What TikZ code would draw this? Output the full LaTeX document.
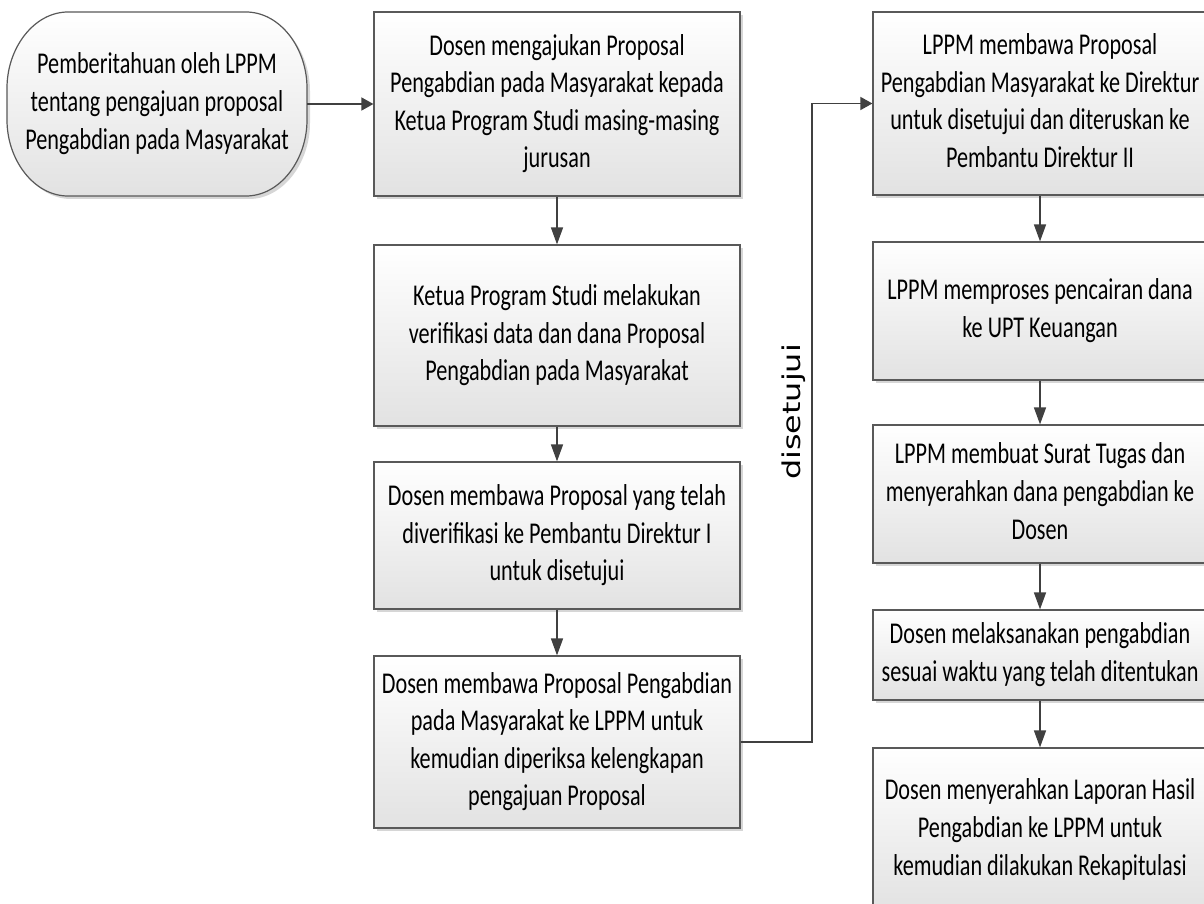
\documentclass[tikz,border=0pt]{standalone}
\usepackage{fontspec}
\setmainfont{Carlito}
\newfontfamily\dejavu{DejaVu Sans}
\usepackage{graphicx}
\usetikzlibrary{arrows.meta,shadows}
\definecolor{boxline}{HTML}{595959}
\definecolor{boxbot}{HTML}{E2E2E2}
\definecolor{arrowc}{HTML}{404040}
\newcommand\vs[1]{\scalebox{1}[1.36]{\begin{tabular}{@{}c@{}}#1\end{tabular}}}
\begin{document}
\begin{tikzpicture}[x=1pt,y=-1pt,
  box/.style={rectangle, draw=boxline, line width=1.2pt, top color=white, bottom color=boxbot,
    drop shadow={shadow xshift=3pt,shadow yshift=-3pt,fill=black!35,opacity=0.45},
    inner sep=0pt, font=\fontsize{22.2}{27.6}\selectfont, text=black},
  lbox/.style={box, minimum width=366pt},
  rbox/.style={box, minimum width=334pt},
  conn/.style={draw=arrowc, line width=1.5pt},
  varr/.style={conn, -{Triangle[width=12pt,length=17pt]}, arrowc},
  harr/.style={conn, -{Triangle[width=13pt,length=12pt]}, arrowc},
]
\useasboundingbox (0,0) rectangle (1204,904);
\fill[white] (0,0) rectangle (1204,904);
\clip (0,0) rectangle (1204,904);

% start terminator
\begin{scope}[shift={(3,3)}]
\fill[black!35, opacity=0.45] (68,12) -- (246,12) .. controls (280,12) and (307,48) .. (307,88) -- (307,120) .. controls (307,160) and (280,196) .. (246,196) -- (68,196) .. controls (34,196) and (7,160) .. (7,120) -- (7,88) .. controls (7,48) and (34,12) .. (68,12) -- cycle;
\end{scope}
\shade[top color=white, bottom color=boxbot, draw=boxline, line width=1.2pt] (68,12) -- (246,12) .. controls (280,12) and (307,48) .. (307,88) -- (307,120) .. controls (307,160) and (280,196) .. (246,196) -- (68,196) .. controls (34,196) and (7,160) .. (7,120) -- (7,88) .. controls (7,48) and (34,12) .. (68,12) -- cycle;
\node[minimum width=300pt, minimum height=184pt, inner sep=0pt, font=\fontsize{22.2}{27.6}\selectfont] (start) at (157,104)
  {\vs{Pemberitahuan oleh LPPM\\tentang pengajuan proposal\\Pengabdian pada Masyarakat}};

% left column
\node[lbox, minimum height=184pt] (b1) at (557,104)
  {\vs{Dosen mengajukan Proposal\\Pengabdian pada Masyarakat kepada\\Ketua Program Studi masing-masing\\jurusan}};
\node[lbox, minimum height=181pt] (b2) at (557,335.5)
  {\vs{Ketua Program Studi melakukan\\verifikasi data dan dana Proposal\\Pengabdian pada Masyarakat}};
\node[lbox, minimum height=147pt] (b3) at (557,535.5)
  {\vs{Dosen membawa Proposal yang telah\\diverifikasi ke Pembantu Direktur I\\untuk disetujui}};
\node[lbox, minimum height=172pt] (b4) at (557,742)
  {\vs{Dosen membawa Proposal Pengabdian\\pada Masyarakat ke LPPM untuk\\kemudian diperiksa kelengkapan\\pengajuan Proposal}};

% right column
\node[rbox, minimum height=183pt] (r1) at (1040,103.5)
  {\vs{LPPM membawa Proposal\\Pengabdian Masyarakat ke Direktur\\untuk disetujui dan diteruskan ke\\Pembantu Direktur II}};
\node[rbox, minimum height=138pt] (r2) at (1040,311)
  {\vs{LPPM memproses pencairan dana\\ke UPT Keuangan}};
\node[rbox, minimum height=138pt] (r3) at (1040,494)
  {\vs{LPPM membuat Surat Tugas dan\\menyerahkan dana pengabdian ke\\Dosen}};
\node[rbox, minimum height=90pt] (r4) at (1040,655)
  {\vs{Dosen melaksanakan pengabdian\\sesuai waktu yang telah ditentukan}};
\node[rbox, minimum height=164pt] (r5) at (1040,830)
  {\vs{Dosen menyerahkan Laporan Hasil\\Pengabdian ke LPPM untuk\\kemudian dilakukan Rekapitulasi}};

% connectors
\draw[harr] (start.east) -- (b1.west);
\draw[varr] (b1.south) -- (b2.north);
\draw[varr] (b2.south) -- (b3.north);
\draw[varr] (b3.south) -- (b4.north);
\coordinate (bend) at (812,742);
\draw[harr] (b4.east) -- (bend) |- (r1.west);
\draw[varr] (r1.south) -- (r2.north);
\draw[varr] (r2.south) -- (r3.north);
\draw[varr] (r3.south) -- (r4.north);
\draw[varr] (r4.south) -- (r5.north);

\node[inner sep=0pt] (lbl) at (794,412)
  {\rotatebox{90}{\scalebox{1.3}[1]{\dejavu\fontsize{24.5}{29}\selectfont disetujui}}};
\end{tikzpicture}
\end{document}
